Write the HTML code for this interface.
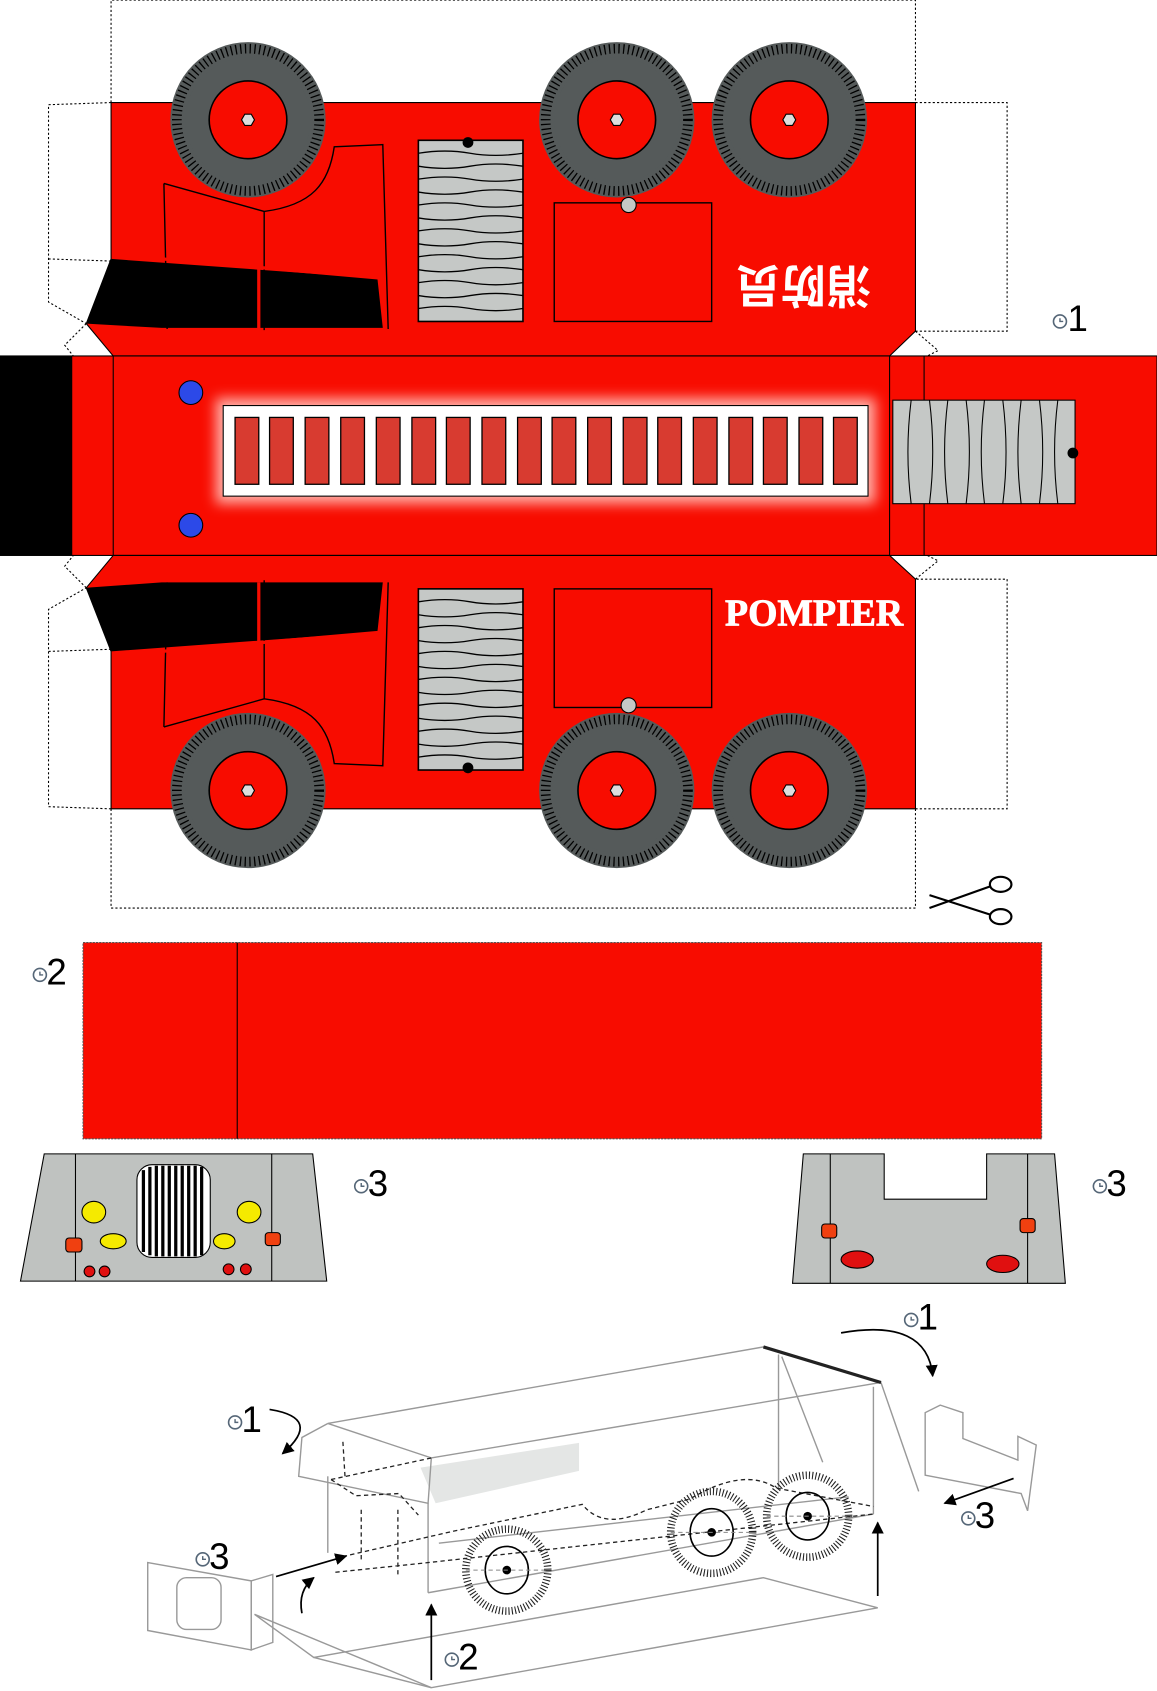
<!DOCTYPE html>
<html><head><meta charset="utf-8"><style>html,body{margin:0;padding:0;background:#fff}svg{display:block}</style></head>
<body>
<svg width="1157" height="1691" viewBox="0 0 1073 1568" xmlns="http://www.w3.org/2000/svg" font-family="Liberation Sans, sans-serif">
<defs>
<g id="wheel">
<circle r="72" fill="#555a5a"/>
<circle r="66" fill="none" stroke="#000" stroke-width="9" stroke-dasharray="1.2 3.2"/>
<circle r="58" fill="#555a5a"/>
<circle r="36" fill="#f80c00" stroke="#000" stroke-width="1.5"/>
<polygon points="-6,0 -3,-5.2 3,-5.2 6,0 3,5.2 -3,5.2" fill="#ddd" stroke="#000" stroke-width="1"/>
</g>
<g id="grille">
<rect x="0" y="0" width="97" height="168" fill="#c5c8c6" stroke="#000" stroke-width="1.5"/>
<path d="M0 12 q25 -4 48 0 t49 0 M0 24 q25 4 48 0 t49 0 M0 36 q25 -4 48 0 t49 0 M0 48 q25 4 48 0 t49 0 M0 60 q25 -4 48 0 t49 0 M0 72 q25 4 48 0 t49 0 M0 84 q25 -4 48 0 t49 0 M0 96 q25 4 48 0 t49 0 M0 108 q25 -4 48 0 t49 0 M0 120 q25 4 48 0 t49 0 M0 132 q25 -4 48 0 t49 0 M0 144 q25 4 48 0 t49 0 M0 156 q25 -4 48 0 t49 0" stroke="#000" stroke-width="1.2" fill="none"/>
</g>
<g id="clk"><circle r="6" fill="none" stroke="#567" stroke-width="1.5"/><path d="M0 -3 V0 H3" stroke="#567" stroke-width="1.3" fill="none"/></g>
<g id="aw">
<circle r="38" fill="none" stroke="#222" stroke-width="7" stroke-dasharray="1 2"/><ellipse rx="20" ry="22" fill="none" stroke="#000" stroke-width="1.5"/><circle r="4" fill="#000"/>
<path d="M-38 0 H38" stroke="#888" stroke-dasharray="4 3"/>
</g>
<marker id="ah" viewBox="0 0 10 10" refX="9" refY="5" markerWidth="7" markerHeight="7" orient="auto"><path d="M0 0 L10 5 L0 10 z" fill="#000"/></marker>
<filter id="gl" x="-10%" y="-30%" width="120%" height="160%"><feGaussianBlur stdDeviation="6"/></filter>
</defs>

<g fill="none" stroke="#000" stroke-width="1" stroke-dasharray="2 2">
<polyline points="103,95 103,0 849,0 849,95"/>
<polyline points="103,95 45,97 45,280 80,300"/>
<line x1="45" y1="240" x2="103" y2="242"/>
<polyline points="849,95 934,95 934,307 849,307"/>
<polyline points="103,750 103,842 849,842 849,750"/>
<polyline points="103,750 45,748 45,565 80,545"/>
<line x1="45" y1="604" x2="103" y2="602"/>
<polyline points="849,750 934,750 934,537 849,537"/>
<polyline points="80,300 60,320 68,330"/>
<polyline points="80,545 60,525 68,515"/>
<polyline points="849,307 870,325 860,330"/>
<polyline points="849,537 870,520 860,515"/>
</g>

<polygon points="103,95 849,95 849,307 825,330 105,330 80,300 103,240" fill="#f80c00" stroke="#000" stroke-width="1"/>
<polygon points="80,300 103,240 350,258 355,304 150,304" fill="#000"/>
<path d="M152,170 L245,196 L245,306 M152,170 L155,305 M245,196 C290,190 305,170 310,136 L355,134 L360,305" stroke="#000" stroke-width="1.3" fill="none"/>
<path d="M240,196 V305 M150,240 L355,258" stroke="#f80c00" stroke-width="3"/>
<use href="#grille" x="388" y="130"/>
<circle cx="434" cy="132" r="5" fill="#000"/>
<rect x="514" y="188" width="146" height="110" fill="none" stroke="#000" stroke-width="1.3"/>
<circle cx="583" cy="190" r="7" fill="#c5c8c6" stroke="#000"/>
<text x="745" y="290" transform="rotate(180 745 270)" font-family="Noto Sans CJK SC, sans-serif" font-weight="bold" font-size="42" fill="#fff" text-anchor="middle">消防员</text>
<use href="#wheel" x="230" y="111"/><use href="#wheel" x="572" y="111"/><use href="#wheel" x="732" y="111"/>

<rect x="0" y="330" width="1073" height="185" fill="#f80c00" stroke="#000" stroke-width="1"/>
<rect x="0" y="330" width="67" height="185" fill="#000"/>
<path d="M105 330 V515 M825 330 V515 M857 330 V515" stroke="#000" stroke-width="1"/>
<rect x="200" y="369" width="612" height="98" fill="#ffb0a8" filter="url(#gl)"/>
<rect x="207" y="376" width="598" height="84" fill="#fff" stroke="#000" stroke-width="1"/>
<g fill="#d83b30" stroke="#000" stroke-width="1.2">
<rect x="218" y="387" width="22" height="62"/><rect x="250" y="387" width="22" height="62"/><rect x="283" y="387" width="22" height="62"/><rect x="316" y="387" width="22" height="62"/><rect x="349" y="387" width="22" height="62"/><rect x="382" y="387" width="22" height="62"/><rect x="414" y="387" width="22" height="62"/><rect x="447" y="387" width="22" height="62"/><rect x="480" y="387" width="22" height="62"/><rect x="512" y="387" width="22" height="62"/><rect x="545" y="387" width="22" height="62"/><rect x="578" y="387" width="22" height="62"/><rect x="610" y="387" width="22" height="62"/><rect x="643" y="387" width="22" height="62"/><rect x="676" y="387" width="22" height="62"/><rect x="708" y="387" width="22" height="62"/><rect x="741" y="387" width="22" height="62"/><rect x="773" y="387" width="22" height="62"/>
</g>
<rect x="828" y="371" width="169" height="96" fill="#c5c8c6" stroke="#000"/>
<path d="M845 371 q-6 48 0 96 M862 371 q6 48 0 96 M879 371 q-6 48 0 96 M896 371 q6 48 0 96 M913 371 q-6 48 0 96 M930 371 q6 48 0 96 M947 371 q-6 48 0 96 M964 371 q6 48 0 96 M981 371 q-6 48 0 96" stroke="#000" fill="none"/>
<circle cx="995" cy="420" r="5" fill="#000"/>
<circle cx="177" cy="364" r="11" fill="#2c49e8" stroke="#000"/>
<circle cx="177" cy="487" r="11" fill="#2c49e8" stroke="#000"/>

<polygon points="103,750 849,750 849,537 825,515 105,515 80,545 103,604" fill="#f80c00" stroke="#000" stroke-width="1"/>
<polygon points="80,545 103,604 350,586 355,540 150,540" fill="#000"/>
<path d="M152,674 L245,648 L245,538 M152,674 L155,540 M245,648 C290,654 305,674 310,708 L355,710 L360,540" stroke="#000" stroke-width="1.3" fill="none"/>
<path d="M240,648 V540 M150,604 L355,586" stroke="#f80c00" stroke-width="3"/>
<use href="#grille" x="388" y="546"/>
<circle cx="434" cy="712" r="5" fill="#000"/>
<rect x="514" y="546" width="146" height="110" fill="none" stroke="#000" stroke-width="1.3"/>
<circle cx="583" cy="654" r="7" fill="#c5c8c6" stroke="#000"/>
<text x="755" y="580" font-family="Liberation Serif, serif" font-weight="bold" font-size="35" fill="#fff" text-anchor="middle" stroke="#fff" stroke-width="0.8">POMPIER</text>
<use href="#wheel" x="230" y="733"/><use href="#wheel" x="572" y="733"/><use href="#wheel" x="732" y="733"/>

<g stroke="#000" stroke-width="2" fill="none">
<path d="M862 830 L918 848 M862 842 L918 822"/>
<ellipse cx="928" cy="820" rx="10" ry="7"/><ellipse cx="928" cy="850" rx="10" ry="7"/>
</g>

<use href="#clk" x="983" y="298"/><text x="990" y="307" font-size="34">1</text>
<use href="#clk" x="37" y="904"/><text x="43" y="913" font-size="34">2</text>
<use href="#clk" x="335" y="1100"/><text x="341" y="1109" font-size="34">3</text>
<use href="#clk" x="1020" y="1100"/><text x="1026" y="1109" font-size="34">3</text>

<rect x="77" y="874" width="889" height="182" fill="#f80c00" stroke="#555" stroke-width="1" stroke-dasharray="2 1"/>
<line x1="220" y1="874" x2="220" y2="1056" stroke="#000"/>

<polygon points="19,1188 41,1070 290,1070 303,1188" fill="#bfc2c0" stroke="#000"/>
<path d="M70 1070 V1188 M252 1070 V1188" stroke="#000"/>
<rect x="127" y="1080" width="68" height="86" rx="14" fill="#fff" stroke="#000"/>
<path d="M133 1085 V1161 M139 1082 V1164 M145 1081 V1165 M151 1081 V1165 M157 1081 V1165 M163 1081 V1165 M169 1081 V1165 M175 1081 V1165 M181 1081 V1165 M187 1082 V1164" stroke="#000" stroke-width="3"/>
<ellipse cx="87" cy="1124" rx="11" ry="10" fill="#f5ea00" stroke="#000"/>
<ellipse cx="231" cy="1124" rx="11" ry="10" fill="#f5ea00" stroke="#000"/>
<ellipse cx="105" cy="1151" rx="12" ry="7" fill="#f5ea00" stroke="#000"/>
<ellipse cx="208" cy="1151" rx="10" ry="7" fill="#f5ea00" stroke="#000"/>
<rect x="61" y="1148" width="15" height="13" rx="3" fill="#f04010" stroke="#000"/>
<rect x="246" y="1143" width="14" height="12" rx="3" fill="#f04010" stroke="#000"/>
<circle cx="83" cy="1179" r="5" fill="#e01010" stroke="#000"/><circle cx="97" cy="1179" r="5" fill="#e01010" stroke="#000"/>
<circle cx="212" cy="1177" r="5" fill="#e01010" stroke="#000"/><circle cx="228" cy="1177" r="5" fill="#e01010" stroke="#000"/>

<polygon points="735,1190 745,1070 820,1070 820,1112 915,1112 915,1070 978,1070 988,1190" fill="#bfc2c0" stroke="#000"/>
<path d="M770 1070 V1190 M953 1070 V1190" stroke="#000"/>
<rect x="762" y="1135" width="14" height="13" rx="3" fill="#f04010" stroke="#000"/>
<rect x="946" y="1130" width="14" height="13" rx="3" fill="#f04010" stroke="#000"/>
<ellipse cx="795" cy="1168" rx="15" ry="8" fill="#e01010" stroke="#000"/>
<ellipse cx="930" cy="1172" rx="15" ry="8" fill="#e01010" stroke="#000"/>

<polygon points="390,1361 537,1338 537,1364 404,1394" fill="#e4e6e5"/>
<g fill="none" stroke="#999" stroke-width="1.3">
<polygon points="304,1320 708,1249 817,1282 400,1352"/>
<polyline points="304,1320 280,1333 277,1369 397,1394 400,1352"/>
<line x1="304" y1="1369" x2="304" y2="1440"/>
<line x1="397" y1="1394" x2="397" y2="1477"/>
<line x1="397" y1="1477" x2="810" y2="1404"/>
<line x1="407" y1="1431" x2="787" y2="1388"/>
<line x1="810" y1="1286" x2="810" y2="1404"/>
<line x1="817" y1="1282" x2="852" y2="1383"/>
<line x1="722" y1="1256" x2="722" y2="1381"/>
<line x1="725" y1="1258" x2="763" y2="1356"/>
<polyline points="236,1497 400,1565 814,1491 708,1463 291,1537 236,1497"/>
<line x1="291" y1="1537" x2="400" y2="1565"/>
<polygon points="137,1449 233,1466 233,1530 137,1512"/>
<polygon points="233,1466 253,1460 253,1523 233,1530"/>
<rect x="164" y="1463" width="41" height="48" rx="9"/>
<polygon points="872,1303 893,1310 893,1334 944,1354 944,1332 961,1340 953,1401 947,1385 858,1368 858,1310"/>
</g>
<path d="M708,1249 L817,1282" stroke="#222" stroke-width="3"/>
<g stroke="#222" stroke-width="1.2" stroke-dasharray="4 3" fill="none">
<path d="M318 1337 L320 1370 M335 1400 V1448 M369 1400 V1462 M307 1372 L400 1352 M311 1445 Q420 1420 420 1420 L540 1395 Q560 1420 600 1400 L640 1390 Q690 1360 720 1380 L810 1397 M311 1458 L388 1450 L810 1404"/>
<path d="M307 1372 L330 1387 L370 1385 L388 1405"/>
</g>
<use href="#aw" x="470" y="1456"/>
<use href="#aw" x="660" y="1421"/>
<use href="#aw" x="749" y="1406"/>
<g stroke="#000" stroke-width="1.6" fill="none" marker-end="url(#ah)">
<path d="M400 1558 V1488"/>
<path d="M814 1480 V1412"/>
<path d="M256 1462 L321 1443"/>
<path d="M280 1496 Q276 1475 291 1463"/>
<path d="M940 1371 L876 1394"/>
<path d="M780 1236 Q860 1222 865 1276"/>
<path d="M250 1307 Q300 1315 262 1348"/>
</g>
<use href="#clk" x="845" y="1224"/><text x="851" y="1233" font-size="34">1</text>
<use href="#clk" x="218" y="1319"/><text x="224" y="1328" font-size="34">1</text>
<use href="#clk" x="898" y="1408"/><text x="904" y="1417" font-size="34">3</text>
<use href="#clk" x="188" y="1446"/><text x="194" y="1455" font-size="34">3</text>
<use href="#clk" x="419" y="1539"/><text x="425" y="1548" font-size="34">2</text>
</svg>
</body></html>
